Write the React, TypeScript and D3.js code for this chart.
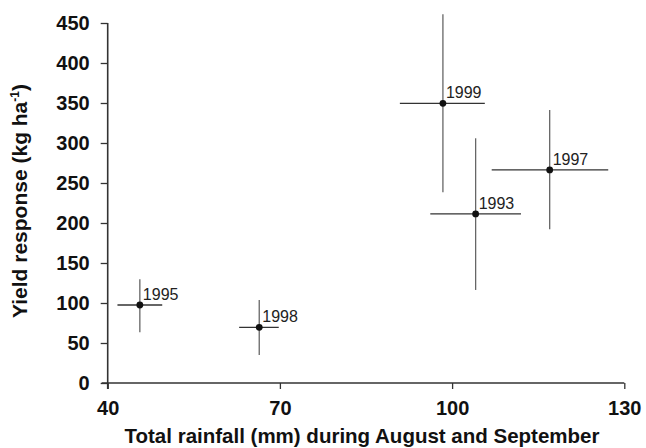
import { useEffect, useRef } from "react";
import * as d3 from "d3";

const width = 646;
const height = 448;

const years = ["1995", "1998", "1999", "1993", "1997"];
const rainfall = [45.6, 66.4, 98.4, 104.1, 117.0];
const rainLow = [41.7, 62.9, 90.9, 96.2, 106.9];
const rainHigh = [49.5, 69.8, 105.7, 112.0, 127.2];
const yieldResp = [97.5, 69.6, 349.6, 211.3, 266.3];
const yieldLow = [63.4, 35, 238.4, 116.3, 192.1];
const yieldHigh = [129.6, 103.8, 460.8, 305.9, 341.3];

const xTicks = [40, 70, 100, 130];
const yTicks = [0, 50, 100, 150, 200, 250, 300, 350, 400, 450];

const font = "'Liberation Sans', Arial, Helvetica, sans-serif";

export default function App() {
  const ref = useRef<SVGSVGElement>(null);

  useEffect(() => {
    const svg = d3.select(ref.current);
    svg.selectAll("*").remove();

    const x = d3.scaleLinear().domain([40, 130]).range([107.7, 624.3]);
    const y = d3.scaleLinear().domain([0, 450]).range([383, 23]);

    // y axis
    const gy = svg
      .append("g")
      .attr("transform", `translate(${x(40)},0)`)
      .call(d3.axisLeft(y).tickValues(yTicks).tickSize(7).tickPadding(11));
    gy.select(".domain").remove();
    gy.append("line")
      .attr("y1", y(450))
      .attr("y2", 389)
      .attr("stroke", "#333")
      .attr("stroke-width", 1.6);
    gy.selectAll(".tick line").attr("stroke", "#333").attr("stroke-width", 1.3);
    gy.selectAll(".tick text")
      .attr("fill", "#111")
      .style("font-family", font)
      .style("font-size", "20px")
      .style("font-weight", "bold");

    // x axis
    const gx = svg
      .append("g")
      .attr("transform", `translate(0,${y(0)})`)
      .call(d3.axisBottom(x).tickValues(xTicks).tickSize(6).tickPadding(12));
    gx.select(".domain").remove();
    gx.append("line")
      .attr("x1", x(40) - 6)
      .attr("x2", x(130))
      .attr("stroke", "#333")
      .attr("stroke-width", 1.6);
    gx.selectAll(".tick line").attr("stroke", "#333").attr("stroke-width", 1.3);
    gx.selectAll(".tick text")
      .attr("fill", "#111")
      .style("font-family", font)
      .style("font-size", "20px")
      .style("font-weight", "bold");

    const idx = d3.range(years.length);

    // error bars
    svg
      .append("g")
      .selectAll("line")
      .data(idx)
      .join("line")
      .attr("x1", (i) => x(rainfall[i]))
      .attr("x2", (i) => x(rainfall[i]))
      .attr("y1", (i) => y(yieldHigh[i]))
      .attr("y2", (i) => y(yieldLow[i]))
      .attr("stroke", "#666")
      .attr("stroke-width", 1.3);

    svg
      .append("g")
      .selectAll("line")
      .data(idx)
      .join("line")
      .attr("x1", (i) => x(rainLow[i]))
      .attr("x2", (i) => x(rainHigh[i]))
      .attr("y1", (i) => y(yieldResp[i]))
      .attr("y2", (i) => y(yieldResp[i]))
      .attr("stroke", "#333")
      .attr("stroke-width", 1.3);

    svg
      .append("g")
      .selectAll("circle")
      .data(idx)
      .join("circle")
      .attr("cx", (i) => x(rainfall[i]))
      .attr("cy", (i) => y(yieldResp[i]))
      .attr("r", 3.4)
      .attr("fill", "#111");

    svg
      .append("g")
      .selectAll("text")
      .data(idx)
      .join("text")
      .attr("x", (i) => x(rainfall[i]) + 3)
      .attr("y", (i) => y(yieldResp[i]) - 5)
      .attr("fill", "#222")
      .style("font-family", font)
      .style("font-size", "16px")
      .text((i) => years[i]);

    // axis titles
    svg
      .append("text")
      .attr("x", 362)
      .attr("y", 443)
      .attr("text-anchor", "middle")
      .attr("fill", "#111")
      .style("font-family", font)
      .style("font-size", "20.5px")
      .style("font-weight", "bold")
      .text("Total rainfall (mm) during August and September");

    const yt = svg
      .append("text")
      .attr("transform", `translate(27,201) rotate(-90)`)
      .attr("text-anchor", "middle")
      .attr("fill", "#111")
      .style("font-family", font)
      .style("font-size", "21px")
      .style("font-weight", "bold");
    yt.append("tspan").text("Yield response (kg ha");
    yt.append("tspan").attr("dy", -8).style("font-size", "12px").text("-1");
    yt.append("tspan").attr("dy", 8).text(")");
  }, []);

  return (
    <svg
      ref={ref}
      width={width}
      height={height}
      style={{ position: "absolute", left: 0, top: 0, background: "#fff" }}
    />
  );
}
